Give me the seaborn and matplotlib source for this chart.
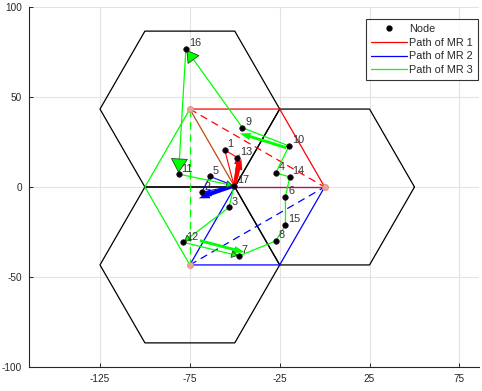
import numpy as np
import pandas as pd
import matplotlib
matplotlib.use("Agg")
import matplotlib.pyplot as plt
import seaborn as sns
from matplotlib.lines import Line2D

# ---------------- data ----------------
node_ids = list(range(1, 18))
node_x = [-55.6, -68.3, -53.2, -27.2, -63.9, -21.8, -47.6, -27.2, -45.7,
          -19.8, -81.3, -78.7, -48.5, -19.4, -21.8, -77.2, -50.4]
node_y = [20.6, -2.9, -11.3, 7.8, 5.9, -5.4, -38.3, -30.0, 32.9,
          22.8, 7.2, -30.7, 16.3, 5.6, -21.1, 76.7, 0.7]

# cell (hexagon) centres and radius
hex_cx = [-75.0, 0.0, -75.0]
hex_cy = [43.3, 0.0, -43.3]
hex_r = 50.0

# route of each mobile relay through the nodes
route_mr1 = [17, 1, 13, 17]
route_mr2 = [17, 5, 2, 17]
route_mr3 = [17, 3, 12, 7, 8, 15, 6, 14, 4, 10, 9, 16, 11, 17]

# station-level paths (x, y lists)
mr1_solid_x = [-75.0, -25.0, 0.0]
mr1_solid_y = [43.3, 43.3, 0.0]
mr1_dash_x = [-75.0, 0.0]
mr1_dash_y = [43.3, 0.0]
mr1_side_x = [-75.0, -50.0]
mr1_side_y = [43.3, 0.0]
mr12_shared_x = [-50.0, 0.0]
mr12_shared_y = [0.0, 0.0]
mr2_solid_x = [-75.0, -25.0, 0.0]
mr2_solid_y = [-43.3, -43.3, 0.0]
mr2_dash_x = [-75.0, 0.0]
mr2_dash_y = [-43.3, 0.0]
mr2_side_x = [-75.0, -50.0]
mr2_side_y = [-43.3, 0.0]
mr3_solid_x = [-75.0, -100.0, -75.0]
mr3_solid_y = [43.3, 0.0, -43.3]
mr3_dash_x = [-75.0, -75.0]
mr3_dash_y = [43.3, -43.3]

# thick direction arrows (start x, start y, end x, end y)
red_arrows = [(-50.2, 0.8, -47.5, 18.5), (-50.0, 0.8, -46.3, 15.5)]
blue_arrows = [(-50.2, 0.5, -70.0, -6.3), (-50.2, 0.8, -69.0, -5.0)]
green_arrows = [(-21.3, 21.8, -47.2, 29.8), (-69.4, -29.8, -44.4, -36.3)]

# arrow heads along the MR3 route (from node, to node, head size)
green_heads = [(9, 16, 16), (16, 11, 19), (11, 17, 8), (3, 12, 8), (12, 7, 8)]

# ---------------- style ----------------
sns.set_theme(style="white")
plt.rcParams['font.family'] = ['Liberation Sans', 'DejaVu Sans']
plt.rcParams['axes.unicode_minus'] = False

fig = plt.figure(figsize=(4.82, 3.91), dpi=100)
ax = fig.add_axes([29 / 482, 24 / 391, 450 / 482, 360 / 391])

xs = dict(zip(node_ids, node_x))
ys = dict(zip(node_ids, node_y))

# hexagon cells
ang = np.deg2rad(np.arange(0, 361, 60))
for cx, cy in zip(hex_cx, hex_cy):
    ax.plot(cx + hex_r * np.cos(ang), cy + hex_r * np.sin(ang),
            color='black', lw=0.9, zorder=2)

RED = '#ff0000'
BLUE = '#0000ff'
GREEN = '#00ff00'

# MR1 (red)
ax.plot(mr1_solid_x, mr1_solid_y, color=RED, lw=0.9, zorder=3)
ax.plot(mr1_dash_x, mr1_dash_y, color=RED, lw=0.9, ls=(0, (6, 4)), zorder=3)
ax.plot(mr1_side_x, mr1_side_y, color='#c04a14', lw=0.9, zorder=3)
ax.plot(mr12_shared_x, mr12_shared_y, color='#9a1f5c', lw=1.0, zorder=3)
ax.plot([xs[i] for i in route_mr1], [ys[i] for i in route_mr1],
        color=RED, lw=0.8, zorder=4)

# MR2 (blue)
ax.plot(mr2_solid_x, mr2_solid_y, color=BLUE, lw=0.9, zorder=3)
ax.plot(mr2_dash_x, mr2_dash_y, color=BLUE, lw=0.9, ls=(0, (6, 4)), zorder=3)
ax.plot(mr2_side_x, mr2_side_y, color=BLUE, lw=0.9, zorder=3)
ax.plot([xs[i] for i in route_mr2], [ys[i] for i in route_mr2],
        color=BLUE, lw=0.8, zorder=4)

# MR3 (green)
ax.plot(mr3_solid_x, mr3_solid_y, color=GREEN, lw=0.9, zorder=3)
ax.plot(mr3_dash_x, mr3_dash_y, color=GREEN, lw=0.9, ls=(0, (6, 4)), zorder=3)
ax.plot([xs[i] for i in route_mr3], [ys[i] for i in route_mr3],
        color=GREEN, lw=0.9, zorder=4)

# base stations
ax.scatter(hex_cx, hex_cy, s=20, color='#e8a595', edgecolor='#d98c7c',
           linewidth=0.5, zorder=5)

# thick arrows
for arrows, col in ((red_arrows, RED), (blue_arrows, BLUE), (green_arrows, GREEN)):
    for x0, y0, x1, y1 in arrows:
        ax.arrow(x0, y0, x1 - x0, y1 - y0, width=1.6, head_width=4.0,
                 head_length=6.0, length_includes_head=True,
                 color=col, lw=0, zorder=6)

# green route arrowheads
for a, b, sz in green_heads:
    x0, y0, x1, y1 = xs[a], ys[a], xs[b], ys[b]
    d = np.hypot(x1 - x0, y1 - y0)
    ux, uy = (x1 - x0) / d, (y1 - y0) / d
    ax.annotate('', xy=(x1 - ux * 0.6, y1 - uy * 0.6),
                xytext=(x1 - ux * 3.5, y1 - uy * 3.5),
                arrowprops=dict(arrowstyle='-|>,head_length=0.5,head_width=0.3',
                                mutation_scale=sz,
                                facecolor=GREEN, edgecolor='#1a4d1a', lw=0.6,
                                shrinkA=0, shrinkB=0),
                zorder=6)

# nodes
df = pd.DataFrame({'x': node_x, 'y': node_y, 'id': node_ids})
sns.scatterplot(data=df, x='x', y='y', ax=ax, color='black', s=16,
                edgecolor='#3a0a3a', linewidth=0.5, zorder=7, legend=False)
for i, x, y in zip(node_ids, node_x, node_y):
    ax.text(x + 1.6, y + 0.3, str(i), fontsize=7.8, color='#333333',
            ha='left', va='bottom', zorder=8)

# legend
handles = [Line2D([], [], marker='o', ls='none', color='black', markersize=3.5),
           Line2D([], [], color=RED, lw=0.9),
           Line2D([], [], color=BLUE, lw=0.9),
           Line2D([], [], color=GREEN, lw=0.9)]
labels = ['Node', 'Path of MR 1', 'Path of MR 2', 'Path of MR 3']
leg = ax.legend(handles, labels, loc='upper right', bbox_to_anchor=(0.997, 0.967),
                fontsize=7.8, frameon=True, fancybox=False, handlelength=3.3,
                handletextpad=0.2, borderpad=0.45, labelspacing=0.35,
                borderaxespad=0.0)
leg.get_frame().set_edgecolor('black')
leg.get_frame().set_linewidth(0.8)
leg.set_zorder(10)

# axes
ax.set_xlim(-164.5, 85.9)
ax.set_ylim(-100, 100)
ax.set_xticks([-125, -75, -25, 25, 75])
ax.set_yticks([-100, -50, 0, 50, 100])
ax.grid(True, color='#e3e3e3', lw=0.8, zorder=0)
ax.set_axisbelow(True)
ax.set_xlabel('')
ax.set_ylabel('')
for s in ['top', 'right']:
    ax.spines[s].set_visible(False)
for s in ['left', 'bottom']:
    ax.spines[s].set_color('#262626')
    ax.spines[s].set_linewidth(0.8)
ax.tick_params(direction='in', length=3, width=0.7, colors='#262626',
               labelsize=7.2, pad=5, bottom=True, left=True)

fig.savefig('out.png', dpi=100)
